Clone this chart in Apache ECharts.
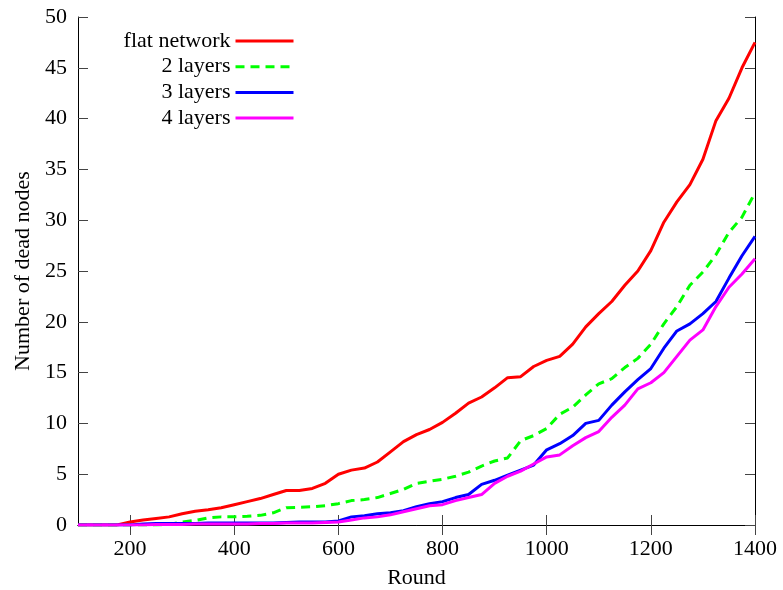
<!DOCTYPE html>
<html>
<head>
<meta charset="utf-8">
<script src="https://cdn.jsdelivr.net/npm/echarts@6/dist/echarts.min.js"></script>
<style>
    html, body { margin: 0; padding: 0; background: #fff; }
    #chart { width: 783px; height: 590px; }
</style>
</head>
<body>
<div id="chart"></div>
<script>
// Rounds sampled along the x axis
const rounds = [100, 125, 150, 175, 200, 225, 250, 275, 300, 325, 350, 375,
    400, 425, 450, 475, 500, 525, 550, 575, 600, 625, 650, 675,
    700, 725, 750, 775, 800, 825, 850, 875, 900, 925, 950, 975,
    1000, 1025, 1050, 1075, 1100, 1125, 1150, 1175, 1200, 1225, 1250, 1275,
    1300, 1325, 1350, 1375, 1400];

// Number of dead nodes per configuration
const flatNetwork = [0, 0, 0, 0, 0.3, 0.5, 0.65, 0.8, 1.1, 1.35, 1.5, 1.7,
    2.0, 2.3, 2.6, 3.0, 3.4, 3.4, 3.6, 4.1, 5.0, 5.4, 5.6, 6.2,
    7.2, 8.2, 8.9, 9.4, 10.1, 11.0, 12.0, 12.6, 13.5, 14.5, 14.6, 15.6,
    16.2, 16.6, 17.8, 19.5, 20.8, 22.0, 23.6, 25.0, 27.0, 29.8, 31.8, 33.5,
    36.0, 39.8, 42.0, 45.0, 47.5];
const twoLayers = [0, 0, 0, 0, 0, 0, 0, 0.05, 0.3, 0.45, 0.7, 0.8,
    0.8, 0.85, 0.95, 1.2, 1.7, 1.75, 1.8, 1.9, 2.1, 2.4, 2.5, 2.7,
    3.1, 3.5, 4.1, 4.3, 4.5, 4.8, 5.2, 5.8, 6.3, 6.6, 8.3, 8.8,
    9.5, 10.9, 11.6, 12.8, 13.9, 14.4, 15.5, 16.4, 17.8, 19.8, 21.5, 23.6,
    24.9, 26.6, 28.8, 30.3, 32.7];
const threeLayers = [0, 0, 0, 0, 0, 0.1, 0.15, 0.15, 0.15, 0.15, 0.2, 0.2,
    0.2, 0.2, 0.2, 0.2, 0.25, 0.3, 0.3, 0.3, 0.4, 0.8, 0.9, 1.1,
    1.2, 1.4, 1.8, 2.1, 2.3, 2.7, 3.0, 4.0, 4.4, 4.9, 5.4, 5.9,
    7.4, 8.0, 8.8, 10.0, 10.3, 11.8, 13.1, 14.3, 15.4, 17.4, 19.1, 19.8,
    20.8, 22.0, 24.3, 26.5, 28.4];
const fourLayers = [0, 0, 0, 0, 0, 0, 0.05, 0.05, 0.05, 0.1, 0.1, 0.1,
    0.1, 0.1, 0.15, 0.15, 0.2, 0.2, 0.2, 0.25, 0.3, 0.5, 0.7, 0.8,
    1.0, 1.3, 1.6, 1.9, 2.0, 2.4, 2.7, 3.0, 4.1, 4.8, 5.3, 6.0,
    6.7, 6.9, 7.8, 8.6, 9.2, 10.6, 11.8, 13.4, 14.0, 15.0, 16.6, 18.2,
    19.2, 21.5, 23.4, 24.7, 26.2];

const xTicks = [200, 400, 600, 800, 1000, 1200, 1400];
const yTicks = [0, 5, 10, 15, 20, 25, 30, 35, 40, 45, 50];

const seriesNames = ['flat network', '2 layers', '3 layers', '4 layers'];
const seriesData = [flatNetwork, twoLayers, threeLayers, fourLayers];
const seriesColors = ['#ff0000', '#00ff00', '#0000ff', '#ff00ff'];
const seriesDash = ['solid', [9, 6], 'solid', 'solid'];

const font = '"Liberation Serif", "DejaVu Serif", serif';
const fontSize = 22;

const chart = echarts.init(document.getElementById('chart'), null, { renderer: 'canvas' });

const tickStyle = { inside: true, length: 10, lineStyle: { color: '#444', width: 1 } };
const lineAxis = { show: true, lineStyle: { color: '#000', width: 1 } };

const option = {
    animation: false,
    backgroundColor: '#fff',
    grid: { left: 78, right: 28, top: 17, bottom: 65, containLabel: false, outerBoundsMode: 'none' },
    // one legend per entry so the text lines up to the right, gnuplot style
    legend: seriesNames.map((name, i) => ({
        data: [name],
        right: 488,
        top: 30 + i * 25.7,
        padding: 0,
        align: 'right',
        itemWidth: 58,
        itemHeight: 14,
        itemGap: 8,
        selectedMode: false,
        itemStyle: { opacity: 0 },
        lineStyle: { width: 3 },
        textStyle: { fontFamily: font, fontSize: fontSize, color: '#000' }
    })),
    xAxis: [
        {
            type: 'value', min: 100, max: 1400, interval: 100,
            name: 'Round', nameLocation: 'middle', nameGap: 42,
            nameTextStyle: { fontFamily: font, fontSize: fontSize, color: '#000' },
            axisLine: lineAxis,
            axisTick: Object.assign({ customValues: xTicks }, tickStyle),
            axisLabel: { customValues: xTicks, margin: 13, fontFamily: font, fontSize: fontSize, color: '#000',
                formatter: v => String(v) },
            splitLine: { show: false }
        },
        {
            type: 'value', min: 100, max: 1400, interval: 100, position: 'top',
            axisLine: lineAxis,
            axisTick: Object.assign({ customValues: xTicks }, tickStyle),
            axisLabel: { show: false },
            splitLine: { show: false }
        }
    ],
    yAxis: [
        {
            type: 'value', min: 0, max: 50, interval: 5,
            name: 'Number of dead nodes', nameLocation: 'middle', nameGap: 44,
            nameTextStyle: { fontFamily: font, fontSize: fontSize, color: '#000' },
            axisLine: lineAxis,
            axisTick: tickStyle,
            axisLabel: { margin: 11, fontFamily: font, fontSize: fontSize, color: '#000',
                formatter: v => (yTicks.includes(v) ? String(v) : '') },
            splitLine: { show: false }
        },
        {
            type: 'value', min: 0, max: 50, interval: 5, position: 'right',
            axisLine: lineAxis,
            axisTick: tickStyle,
            axisLabel: { show: false },
            splitLine: { show: false }
        }
    ],
    series: seriesNames.map((name, i) => ({
        name: name,
        type: 'line',
        symbol: 'none',
        data: rounds.map((r, j) => [r, seriesData[i][j]]),
        color: seriesColors[i],
        lineStyle: { color: seriesColors[i], width: 3, type: seriesDash[i] },
        z: 2 + i
    }))
};

chart.setOption(option);
</script>
</body>
</html>
